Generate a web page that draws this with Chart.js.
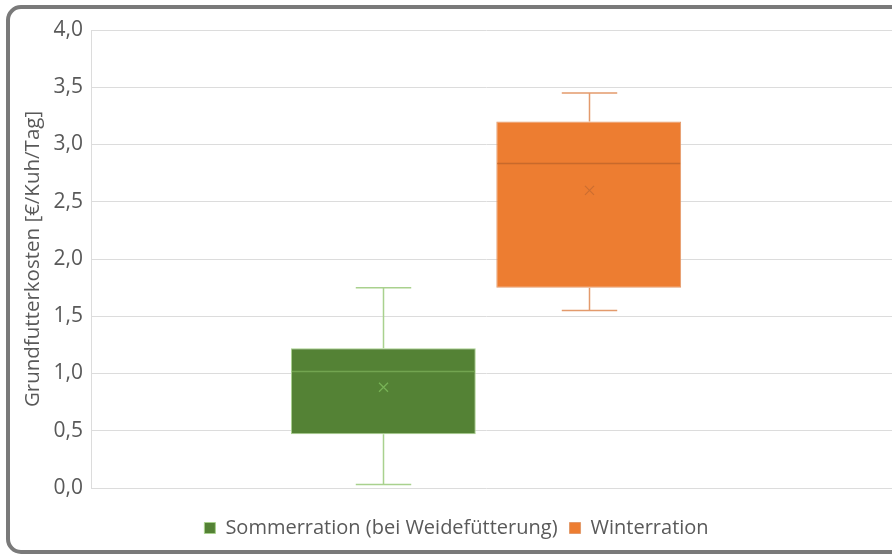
<!DOCTYPE html>
<html>
<head>
<meta charset="utf-8">
<script src="https://cdn.jsdelivr.net/npm/chart.js@4/dist/chart.umd.min.js"></script>
<style>
  html, body { margin: 0; padding: 0; background: #fff; overflow: hidden; }
  #wrap { position: relative; width: 892px; height: 555px; overflow: hidden; }
  #frame { position: absolute; left: 6px; top: 5px; width: 1000px; height: 549px; box-sizing: border-box;
           border: 4px solid #7a7a7a; border-radius: 15px; background: #fff; }
  #c { position: absolute; left: 0; top: 0; }
</style>
</head>
<body>
<div id="wrap">
  <div id="frame"></div>
  <canvas id="c" width="892" height="555"></canvas>
</div>
<script>
// ---- data ----
const categories = ['Grundfutterkosten'];
const seriesNames = ['Sommerration (bei Weidefütterung)', 'Winterration'];
const whiskerMin = [0.03, 1.55];
const quartile1 = [0.47, 1.75];
const medians = [1.02, 2.84];
const quartile3 = [1.22, 3.20];
const whiskerMax = [1.75, 3.45];
const means = [0.88, 2.60];
const yAxisTitle = 'Grundfutterkosten [€/Kuh/Tag]';
const yMin = 0, yMax = 4, yStep = 0.5;

// ---- styles ----
const fillColors = ['#548235', '#ED7D31'];
const edgeColors = ['#A9D18E', '#E39A6C'];
const medianColors = ['#72A450', '#C8692B'];
const meanColors = ['#78B357', '#CC6E30'];
const textColor = '#595959';
const gridColor = '#dcdcdc';
const FONT = "'Open Sans', sans-serif";

const datasets = seriesNames.map((name, i) => ({
  label: name,
  data: categories.map(() => [quartile1[i], quartile3[i]]),
  backgroundColor: fillColors[i],
  borderColor: edgeColors[i],
  borderWidth: 1,
  borderSkipped: false,
  categoryPercentage: 0.52,
  barPercentage: 0.9
}));

// grid lines continue past the plot area to the right edge (as in the cropped original)
const gridExtension = {
  id: 'gridExtension',
  beforeDatasetsDraw(chart) {
    const ctx = chart.ctx;
    const y = chart.scales.y;
    const area = chart.chartArea;
    ctx.save();
    ctx.strokeStyle = gridColor;
    ctx.lineWidth = 1;
    ctx.beginPath();
    y.ticks.forEach((t, i) => {
      const py = Math.round(y.getPixelForTick(i) - 0.5) + 0.5;
      ctx.moveTo(area.right, py);
      ctx.lineTo(chart.width, py);
    });
    ctx.stroke();
    ctx.restore();
  }
};

const boxPlotExtras = {
  id: 'boxPlotExtras',
  afterDatasetsDraw(chart) {
    const ctx = chart.ctx;
    const y = chart.scales.y;
    chart.data.datasets.forEach((ds, i) => {
      const meta = chart.getDatasetMeta(i);
      if (meta.hidden) return;
      meta.data.forEach((bar) => {
        const p = bar.getProps(['x', 'width'], true);
        const cx = Math.round(p.x) + 0.5;
        const half = p.width / 2;
        const capHalf = p.width * 0.15;
        const yLo = y.getPixelForValue(whiskerMin[i]);
        const yQ1 = y.getPixelForValue(quartile1[i]);
        const yQ3 = y.getPixelForValue(quartile3[i]);
        const yHi = y.getPixelForValue(whiskerMax[i]);
        const yMed = Math.round(y.getPixelForValue(medians[i])) + 0.5;
        const yMean = y.getPixelForValue(means[i]);
        ctx.save();
        ctx.lineWidth = 1.5;
        ctx.strokeStyle = edgeColors[i];
        ctx.beginPath();
        ctx.moveTo(cx, yQ3); ctx.lineTo(cx, yHi);
        ctx.moveTo(cx - capHalf, yHi); ctx.lineTo(cx + capHalf, yHi);
        ctx.moveTo(cx, yQ1); ctx.lineTo(cx, yLo);
        ctx.moveTo(cx - capHalf, yLo); ctx.lineTo(cx + capHalf, yLo);
        ctx.stroke();
        ctx.lineWidth = 1.5;
        ctx.strokeStyle = medianColors[i];
        ctx.beginPath();
        ctx.moveTo(p.x - half + 1, yMed); ctx.lineTo(p.x + half - 1, yMed);
        ctx.stroke();
        ctx.lineWidth = 1.2;
        ctx.strokeStyle = meanColors[i];
        const m = 4.5;
        ctx.beginPath();
        ctx.moveTo(cx - m, yMean - m); ctx.lineTo(cx + m, yMean + m);
        ctx.moveTo(cx + m, yMean - m); ctx.lineTo(cx - m, yMean + m);
        ctx.stroke();
        ctx.restore();
      });
    });
  }
};

new Chart(document.getElementById('c'), {
  type: 'bar',
  data: { labels: categories, datasets },
  options: {
    responsive: false,
    animation: false,
    layout: { padding: { left: 21, right: 0, top: 30, bottom: 7 } },
    plugins: {
      legend: {
        position: 'bottom',
        labels: {
          color: textColor,
          font: { family: FONT, size: 20 },
          boxWidth: 11, boxHeight: 11,
          padding: 12
        }
      },
      tooltip: { enabled: false }
    },
    scales: {
      x: {
        display: true,
        grid: { display: false, drawTicks: false },
        border: { display: false },
        ticks: { display: false },
        afterFit: (s) => { s.height = 18; }
      },
      y: {
        min: yMin, max: yMax,
        ticks: {
          stepSize: yStep,
          color: textColor,
          font: { family: FONT, size: 21 },
          padding: 8,
          callback: (v) => v.toFixed(1).replace('.', ',')
        },
        grid: { color: gridColor, lineWidth: 1, drawTicks: false },
        border: { color: gridColor },
        title: {
          display: true,
          text: yAxisTitle,
          color: textColor,
          font: { family: FONT, size: 20.5 },
          padding: { top: 0, bottom: 0 }
        }
      },
      yRight: {
        position: 'right',
        display: true,
        min: yMin, max: yMax,
        grid: { display: false, drawTicks: false },
        border: { display: false },
        ticks: { display: false },
        afterFit: (s) => { s.width = 11; }
      }
    }
  },
  plugins: [gridExtension, boxPlotExtras]
});
</script>
</body>
</html>
